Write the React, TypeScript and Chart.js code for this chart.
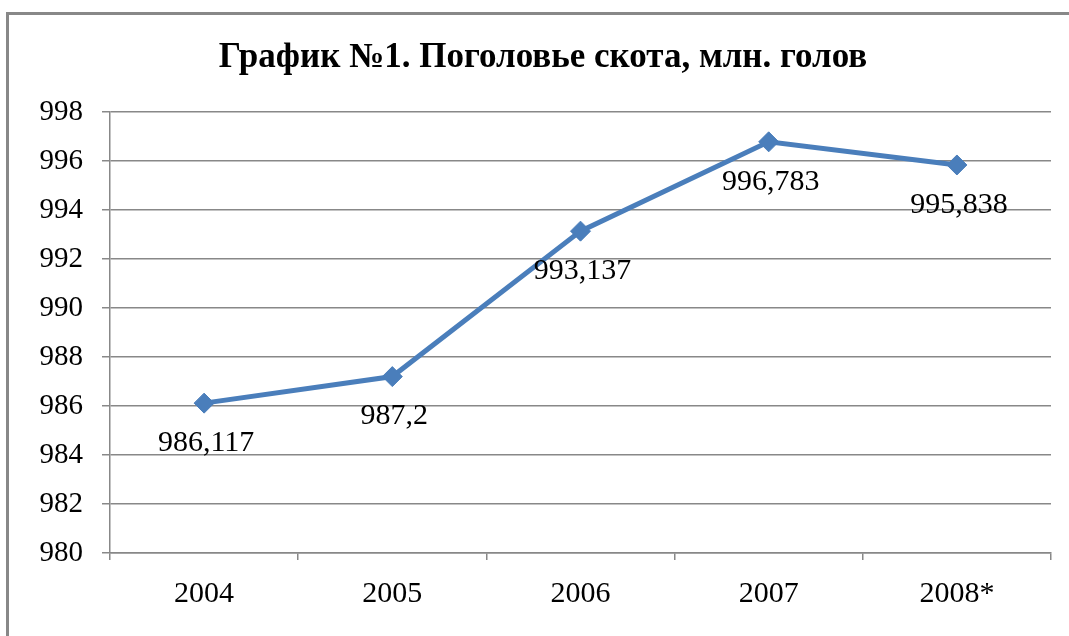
import React, { useEffect, useRef } from "react";
import { Chart, registerables } from "chart.js";

Chart.register(...registerables);

const titleText = "График №1. Поголовье скота, млн. голов";
const categories = ["2004", "2005", "2006", "2007", "2008*"];
const livestock = [986.117, 987.2, 993.137, 996.783, 995.838];
const yMin = 980;
const yMax = 998;
const yStep = 2;

const SERIF = '"Liberation Serif", "Times New Roman", serif';
const LINE_COLOR = "#4a7ebb";
const GRID_COLOR = "#888888";

export default function App() {
  const ref = useRef<HTMLCanvasElement | null>(null);

  useEffect(() => {
    const canvas = ref.current;
    if (!canvas) return;

    const framePlugin = {
      id: "frame",
      beforeDraw(chart: any) {
        const ctx = chart.ctx;
        ctx.save();
        ctx.fillStyle = "#ffffff";
        ctx.fillRect(0, 0, chart.width, chart.height);
        ctx.strokeStyle = GRID_COLOR;
        ctx.lineWidth = 3;
        ctx.beginPath();
        ctx.moveTo(7.5, chart.height + 5);
        ctx.lineTo(7.5, 13.5);
        ctx.lineTo(chart.width + 5, 13.5);
        ctx.stroke();
        ctx.fillStyle = "#000000";
        ctx.font = `bold 35px ${SERIF}`;
        ctx.textAlign = "center";
        ctx.textBaseline = "alphabetic";
        ctx.fillText(titleText, 543, 67);
        ctx.restore();
      },
    };

    const labelPlugin = {
      id: "valueLabels",
      afterDatasetsDraw(chart: any) {
        const ctx = chart.ctx;
        const meta = chart.getDatasetMeta(0);
        ctx.save();
        ctx.fillStyle = "#000000";
        ctx.font = `30px ${SERIF}`;
        ctx.textAlign = "center";
        ctx.textBaseline = "middle";
        meta.data.forEach((pt: any, i: number) => {
          const txt = String(livestock[i]).replace(".", ",");
          ctx.fillText(txt, pt.x + 2, pt.y + 40);
        });
        ctx.restore();
      },
    };

    const chart = new Chart(canvas, {
      type: "line",
      data: {
        labels: categories,
        datasets: [
          {
            data: livestock,
            borderColor: LINE_COLOR,
            backgroundColor: LINE_COLOR,
            borderWidth: 5,
            pointStyle: "rectRot",
            pointRadius: 10,
            pointBorderWidth: 1,
            pointBackgroundColor: LINE_COLOR,
            pointBorderColor: LINE_COLOR,
            tension: 0,
          },
        ],
      },
      options: {
        responsive: false,
        animation: false,
        events: [],
        layout: { padding: { left: 0, top: 112, right: 18, bottom: 0 } },
        plugins: {
          legend: { display: false },
          title: { display: false },
          tooltip: { enabled: false },
        },
        scales: {
          x: {
            offset: true,
            grid: {
              offset: true,
              drawOnChartArea: false,
              drawTicks: true,
              tickLength: 7,
              color: GRID_COLOR,
              lineWidth: 1.5,
            },
            border: { display: true, color: GRID_COLOR, width: 1.5 },
            ticks: {
              color: "#000000",
              font: { family: SERIF, size: 30 },
              padding: 16,
              maxRotation: 0,
            },
            afterFit(scale: any) {
              scale.height = 636 - 553;
            },
          },
          y: {
            min: yMin,
            max: yMax,
            ticks: {
              stepSize: yStep,
              color: "#000000",
              font: { family: SERIF, size: 29 },
              padding: 19,
            },
            grid: {
              color: GRID_COLOR,
              lineWidth: 1.5,
              drawTicks: true,
              tickLength: 8,
            },
            border: { display: true, color: GRID_COLOR, width: 1.5 },
            afterFit(scale: any) {
              scale.width = 110;
            },
          },
        },
      },
      plugins: [framePlugin, labelPlugin],
    });

    return () => chart.destroy();
  }, []);

  return (
    <div style={{ position: "fixed", left: 0, top: 0, width: 1069, height: 636, overflow: "hidden", background: "#fff" }}>
      <canvas ref={ref} width={1069} height={636} style={{ display: "block", width: 1069, height: 636 }} />
    </div>
  );
}
